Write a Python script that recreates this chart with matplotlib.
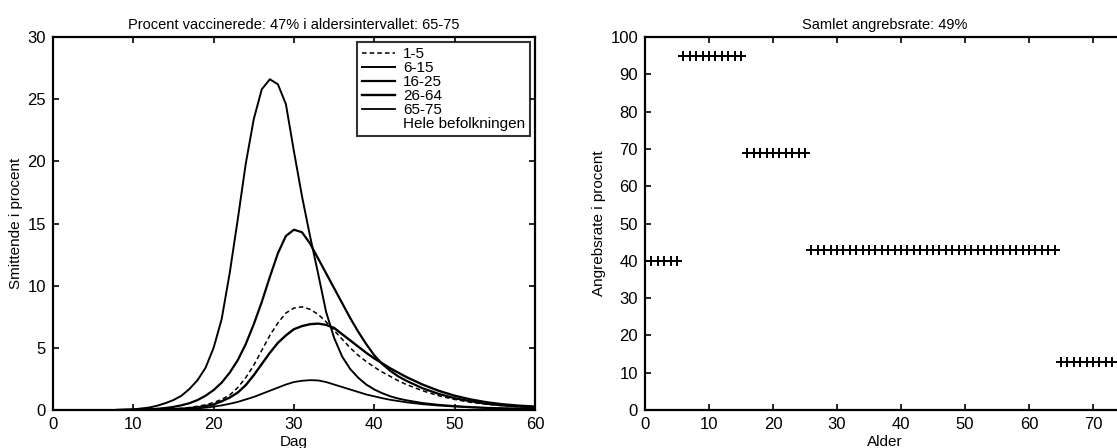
import matplotlib
matplotlib.use("Agg")
import matplotlib.pyplot as plt
from matplotlib.lines import Line2D
import numpy as np

plt.rcParams["font.family"] = ["Liberation Sans Narrow", "Liberation Sans", "DejaVu Sans"]
plt.rcParams["font.size"] = 10.5

# left panel: share infectious per age group, by day
days = [8, 10, 12, 13, 14, 15, 16, 17, 18, 19, 20, 21, 22, 23, 24, 25, 26, 27, 28, 29,
        30, 31, 32, 33, 34, 35, 36, 37, 38, 39, 40, 41, 42, 43, 44, 46, 48, 50, 52, 54,
        56, 58, 60]
inf_1_5 = [0.0, 0.01, 0.03, 0.04, 0.06, 0.09, 0.13, 0.2, 0.3, 0.42, 0.6, 0.85, 1.2, 1.8,
           2.6, 3.6, 4.8, 6.0, 7.0, 7.8, 8.2, 8.3, 8.1, 7.7, 7.1, 6.4, 5.7, 5.0, 4.4, 3.9,
           3.45, 3.05, 2.7, 2.35, 2.05, 1.55, 1.15, 0.85, 0.62, 0.46, 0.35, 0.27, 0.21]
inf_6_15 = [0.0, 0.05, 0.2, 0.35, 0.55, 0.8, 1.15, 1.7, 2.4, 3.4, 5.0, 7.3, 11.0, 15.3,
            19.8, 23.4, 25.8, 26.6, 26.2, 24.6, 20.8, 17.2, 14.0, 11.0, 7.9, 5.8, 4.3,
            3.3, 2.6, 2.05, 1.65, 1.35, 1.1, 0.92, 0.78, 0.56, 0.42, 0.32, 0.24, 0.18,
            0.14, 0.11, 0.09]
inf_16_25 = [0.0, 0.02, 0.06, 0.1, 0.16, 0.25, 0.38, 0.55, 0.8, 1.15, 1.6, 2.2, 3.0, 4.0,
             5.3, 6.9, 8.7, 10.7, 12.6, 14.0, 14.5, 14.3, 13.4, 12.2, 11.0, 9.8, 8.6, 7.4,
             6.3, 5.3, 4.4, 3.7, 3.15, 2.7, 2.35, 1.75, 1.3, 0.95, 0.7, 0.5, 0.37, 0.28,
             0.22]
inf_26_64 = [0.0, 0.01, 0.02, 0.03, 0.05, 0.07, 0.1, 0.15, 0.22, 0.32, 0.45, 0.7, 1.0, 1.4,
             2.0, 2.8, 3.7, 4.6, 5.4, 6.0, 6.5, 6.75, 6.9, 6.95, 6.85, 6.6, 6.1, 5.6, 5.1,
             4.6, 4.15, 3.75, 3.35, 3.0, 2.65, 2.05, 1.55, 1.15, 0.85, 0.62, 0.46, 0.35,
             0.28]
inf_65_75 = [0.0, 0.0, 0.01, 0.02, 0.03, 0.04, 0.06, 0.09, 0.13, 0.19, 0.27, 0.37, 0.5,
             0.65, 0.85, 1.05, 1.3, 1.55, 1.8, 2.05, 2.25, 2.35, 2.4, 2.38, 2.25, 2.05,
             1.85, 1.65, 1.45, 1.25, 1.1, 0.95, 0.82, 0.72, 0.62, 0.47, 0.36, 0.28, 0.21,
             0.16, 0.12, 0.1, 0.08]

# right panel: attack rate per age group
group_first_age = [1, 6, 16, 26, 65]
group_last_age = [5, 15, 25, 64, 75]
attack_rate = [40, 95, 69, 43, 13]

title_left = "Procent vaccinerede: 47% i aldersintervallet: 65-75"
title_right = "Samlet angrebsrate: 49%"

fig = plt.figure(figsize=(11.17, 4.48), dpi=100)
ax1 = fig.add_axes([0.0474, 0.0848, 0.4315, 0.8326])
ax2 = fig.add_axes([0.5774, 0.0848, 0.4297, 0.8326])

ax1.plot(days, inf_1_5, color="black", lw=1.1, ls=(0, (3, 2)), label="1-5")
ax1.plot(days, inf_6_15, color="black", lw=1.4, label="6-15")
ax1.plot(days, inf_16_25, color="black", lw=1.6, label="16-25")
ax1.plot(days, inf_26_64, color="black", lw=1.7, label="26-64")
ax1.plot(days, inf_65_75, color="black", lw=1.3, label="65-75")
handles, labels = ax1.get_legend_handles_labels()
handles.append(Line2D([], [], color="white"))
labels.append("Hele befolkningen")
leg = ax1.legend(handles, labels, loc="upper right", fontsize=11, frameon=True,
                 fancybox=False, edgecolor="black", handlelength=2.2, handletextpad=0.5,
                 labelspacing=0.0, borderpad=0.3, borderaxespad=0.35)
leg.get_frame().set_linewidth(1.5)

ax1.set_xlim(0, 60)
ax1.set_ylim(0, 30)
ax1.set_xticks(range(0, 61, 10))
ax1.set_yticks(range(0, 31, 5))
ax1.set_xlabel("Dag", labelpad=2, fontsize=11)
ax1.set_ylabel("Smittende i procent", labelpad=3, fontsize=11)
ax1.set_title(title_left, fontsize=10.5, pad=6)

for i in range(len(attack_rate)):
    ages = np.arange(group_first_age[i], group_last_age[i] + 1)
    ax2.plot(ages, [attack_rate[i]] * len(ages), ls="none", marker="+", ms=7,
             mew=1.4, color="black")
ax2.set_xlim(0, 75)
ax2.set_ylim(0, 100)
ax2.set_xticks(range(0, 71, 10))
ax2.set_yticks(range(0, 101, 10))
ax2.set_xlabel("Alder", labelpad=2, fontsize=11)
ax2.set_ylabel("Angrebsrate i procent", labelpad=3, fontsize=11)
ax2.set_title(title_right, fontsize=10.5, pad=6)

for ax in (ax1, ax2):
    ax.tick_params(direction="in", top=True, right=True, length=4, width=1.2,
                   labelsize=12, pad=5)
    for s in ax.spines.values():
        s.set_linewidth(1.6)

fig.savefig("out.png", dpi=100)
